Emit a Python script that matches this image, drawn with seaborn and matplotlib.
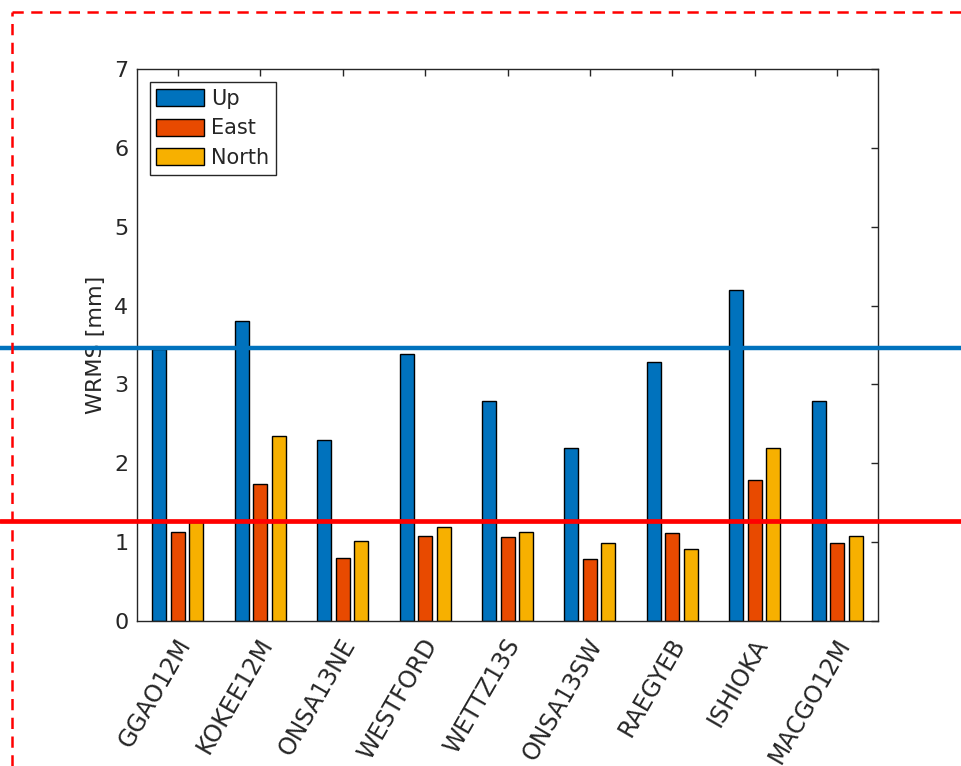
import matplotlib
matplotlib.use("Agg")
import matplotlib.pyplot as plt
import matplotlib.transforms as mtransforms
from matplotlib.lines import Line2D
import numpy as np
import pandas as pd
import seaborn as sns

# Station WRMS values [mm]
stations = ["GGAO12M", "KOKEE12M", "ONSA13NE", "WESTFORD", "WETTZ13S",
            "ONSA13SW", "RAEGYEB", "ISHIOKA", "MACGO12M"]
up_vals = [3.45, 3.81, 2.29, 3.39, 2.79, 2.19, 3.29, 4.20, 2.79]
east_vals = [1.13, 1.74, 0.80, 1.08, 1.06, 0.78, 1.11, 1.79, 0.99]
north_vals = [1.25, 2.35, 1.01, 1.19, 1.13, 0.99, 0.91, 2.19, 1.08]
components = ["Up", "East", "North"]

# Reference levels drawn across the whole figure
up_ref = 3.46
horiz_ref = 1.27

colors = {"Up": "#0072BD", "East": "#E84A00", "North": "#F7B000"}
text_color = "#262626"

df = pd.DataFrame({
    "station": stations * 3,
    "component": ["Up"] * len(stations) + ["East"] * len(stations) + ["North"] * len(stations),
    "wrms": up_vals + east_vals + north_vals,
})

sns.set_style("white")
plt.rcParams["font.family"] = ["DejaVu Sans"]

fig = plt.figure(figsize=(9.61, 7.66), dpi=100)
ax = fig.add_axes([0.1422, 0.1897, 0.9140 - 0.1422, 0.9095 - 0.1897])

sns.barplot(data=df, x="station", y="wrms", hue="component", order=stations,
            hue_order=components, palette=colors, width=0.675, gap=0.245,
            edgecolor="black", linewidth=1.0, saturation=1, ax=ax, legend=True)

ax.set_xlim(-0.5, len(stations) - 0.5)
ax.set_ylim(0, 7)
ax.set_yticks(range(0, 8))
ax.set_xlabel("")
ax.set_ylabel("WRMS [mm]", fontsize=16, color=text_color, labelpad=6)

for sp in ax.spines.values():
    sp.set_visible(True)
    sp.set_color(text_color)
    sp.set_linewidth(1.0)

ax.tick_params(axis="both", direction="in", length=5, width=1.0, color=text_color,
               labelcolor=text_color, top=True, right=True)
ax.tick_params(axis="y", pad=6, labelsize=16)
ax.tick_params(axis="x", pad=14, labelsize=17)
shift = mtransforms.ScaledTranslation(0.07, 0, fig.dpi_scale_trans)
for lbl in ax.get_xticklabels():
    lbl.set_rotation(60)
    lbl.set_ha("right")
    lbl.set_va("center")
    lbl.set_rotation_mode("anchor")
    lbl.set_transform(lbl.get_transform() + shift)

handles, labels = ax.get_legend_handles_labels()
leg = ax.legend(handles, labels, loc="upper left", fontsize=15,
                frameon=True, fancybox=False, framealpha=1, edgecolor=text_color,
                handlelength=2.3, handleheight=0.87, handletextpad=0.32,
                labelspacing=0.45, borderpad=0.33, borderaxespad=0.62)
leg.get_frame().set_linewidth(1.0)
for t in leg.get_texts():
    t.set_color(text_color)

# Reference lines spanning the full figure width
blend = mtransforms.blended_transform_factory(fig.transFigure, ax.transData)
ax.add_line(Line2D([0, 1], [up_ref, up_ref], transform=blend, color="#0072BD",
                   linewidth=3.2, clip_on=False, zorder=10))
ax.add_line(Line2D([0, 1], [horiz_ref, horiz_ref], transform=blend, color="#FF0000",
                   linewidth=3.4, clip_on=False, zorder=10))

# Dashed red frame along the top and left of the figure
x0, y0 = 11.5 / 961, 1 - 11.5 / 766
fig.add_artist(Line2D([x0, 1.0], [y0, y0], transform=fig.transFigure, color="#FF0000",
                      linewidth=1.8, linestyle=(0, (4.5, 3))))
fig.add_artist(Line2D([x0, x0], [0.0, y0], transform=fig.transFigure, color="#FF0000",
                      linewidth=1.8, linestyle=(0, (4.5, 3))))

fig.savefig("out.png", dpi=100, facecolor="white")
